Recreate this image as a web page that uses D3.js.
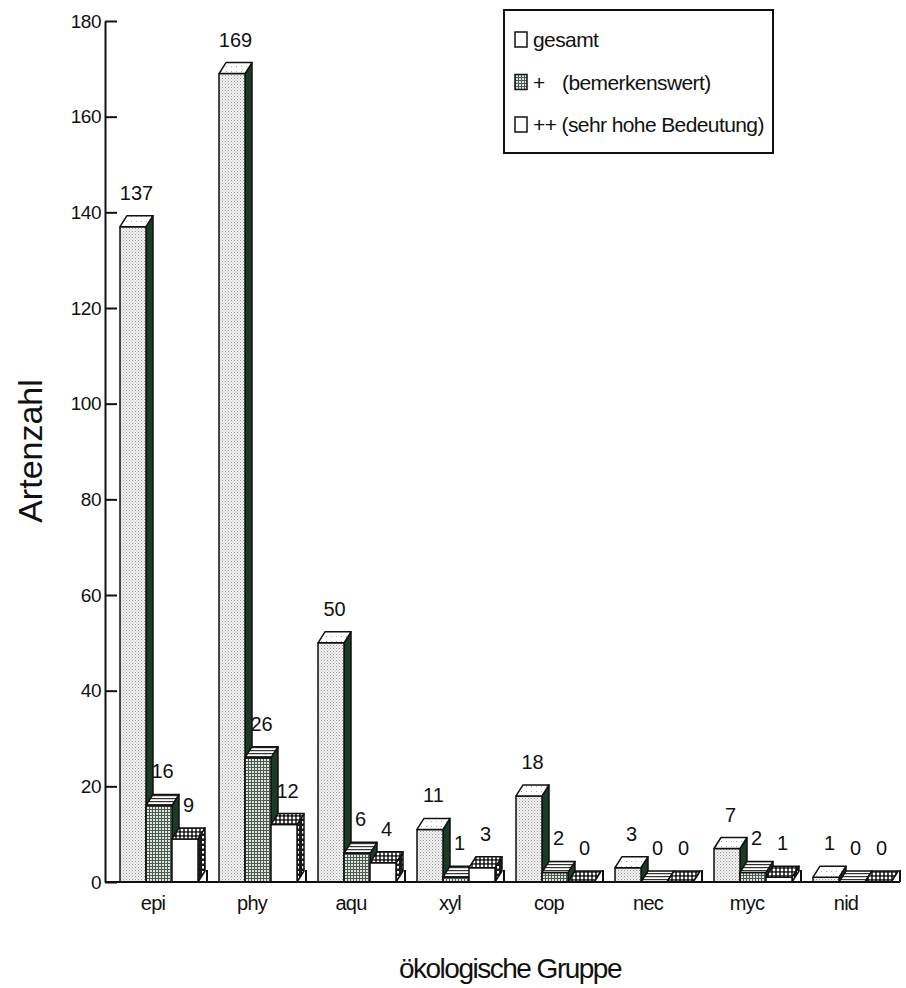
<!DOCTYPE html>
<html>
<head>
<meta charset="utf-8">
<script src="https://cdn.jsdelivr.net/npm/d3@7"></script>
<style>
  body { margin: 0; background: #fff; }
  text { font-family: "Liberation Sans", Arial, sans-serif; fill: #111; }
</style>
</head>
<body>
<svg id="chart"></svg>
<script>
// data
const groups = ["epi", "phy", "aqu", "xyl", "cop", "nec", "myc", "nid"];
const gesamt = [137, 169, 50, 11, 18, 3, 7, 1];
const bemerkenswert = [16, 26, 6, 1, 2, 0, 2, 0];
const sehrHoch = [9, 12, 4, 3, 0, 0, 1, 0];
const seriesNames = ["gesamt", "plus", "plusplus"];
const yTicks = [0, 20, 40, 60, 80, 100, 120, 140, 160, 180];

const width = 906, height = 988;
const dx = 7, dy = 11;

const svg = d3.select("#chart")
    .attr("width", width)
    .attr("height", height);

// textures
const defs = svg.append("defs");

function pattern(id, size, bg, draw) {
    const p = defs.append("pattern")
        .attr("id", id)
        .attr("patternUnits", "userSpaceOnUse")
        .attr("width", size)
        .attr("height", size);
    p.append("rect").attr("width", size).attr("height", size).attr("fill", bg);
    draw(p);
}

pattern("dotsFront", 3, "#f2f2f2", p => {
    p.append("rect").attr("x", 0).attr("y", 0).attr("width", 1).attr("height", 1).attr("fill", "#999");
    p.append("rect").attr("x", 1.5).attr("y", 1.5).attr("width", 1).attr("height", 1).attr("fill", "#b5b5b5");
});
pattern("dotsTop", 5, "#fff", p => {
    p.append("rect").attr("x", 1).attr("y", 1).attr("width", 1).attr("height", 1).attr("fill", "#aaa");
});
pattern("grid", 3, "#4a5a50", p => {
    p.append("rect").attr("x", 0).attr("y", 0).attr("width", 2).attr("height", 2).attr("fill", "#dfe4df");
});
pattern("lines", 3, "#fff", p => {
    p.append("rect").attr("x", 0).attr("y", 0).attr("width", 3).attr("height", 1.2).attr("fill", "#333");
});
pattern("circles", 4, "#1a1a1a", p => {
    p.append("circle").attr("cx", 2).attr("cy", 2).attr("r", 1.4).attr("fill", "#fff");
});
pattern("dashSide", 5, "#1a1a1a", p => {
    p.append("rect").attr("x", 2).attr("y", 1).attr("width", 2).attr("height", 2.5).attr("fill", "#fff");
});

const styles = {
    gesamt:   { front: "url(#dotsFront)", top: "url(#dotsTop)", side: "#1c3a28" },
    plus:     { front: "url(#grid)",      top: "url(#lines)",   side: "#1c3a28" },
    plusplus: { front: "#fff",            top: "url(#circles)", side: "url(#dashSide)" }
};

// scales
const y = d3.scaleLinear().domain([0, 180]).range([882, 21]);
const x = d3.scaleBand().domain(groups).range([108, 900]);
const xs = d3.scaleBand().domain(seriesNames).range([12, 90]);

// y axis
const yAxis = svg.append("g")
    .attr("transform", "translate(105,0)")
    .call(d3.axisLeft(y).tickValues(yTicks).tickSizeInner(-12).tickSizeOuter(0).tickPadding(4));
yAxis.select(".domain").attr("stroke", "#111").attr("stroke-width", 2);
yAxis.selectAll(".tick line").attr("stroke", "#111").attr("stroke-width", 2);
yAxis.selectAll(".tick text")
    .attr("font-size", 19)
    .attr("font-family", "Liberation Sans, Arial, sans-serif")
    .attr("letter-spacing", -0.5)
    .attr("fill", "#111");

// bars
const rows = groups.flatMap((g, i) => [
    { g, s: "gesamt", v: gesamt[i] },
    { g, s: "plus", v: bemerkenswert[i] },
    { g, s: "plusplus", v: sehrHoch[i] }
]);

const w = xs.bandwidth();
const bars = svg.append("g").selectAll("g.bar")
    .data(rows)
    .enter().append("g")
    .attr("class", "bar")
    .attr("stroke", "#111")
    .attr("stroke-width", 1.5)
    .attr("stroke-linejoin", "round");

bars.append("path")
    .attr("fill", d => styles[d.s].side)
    .attr("d", d => {
        const x1 = x(d.g) + xs(d.s) + w, yt = y(d.v), yb = y(0);
        return `M${x1},${yt}L${x1 + dx},${yt - dy}L${x1 + dx},${yb - dy}L${x1},${yb}Z`;
    });

bars.append("rect")
    .attr("x", d => x(d.g) + xs(d.s))
    .attr("y", d => y(d.v))
    .attr("width", w)
    .attr("height", d => y(0) - y(d.v))
    .attr("fill", d => styles[d.s].front);

bars.append("path")
    .attr("fill", d => styles[d.s].top)
    .attr("d", d => {
        const x0 = x(d.g) + xs(d.s), yt = y(d.v);
        return `M${x0},${yt}L${x0 + dx},${yt - dy}L${x0 + w + dx},${yt - dy}L${x0 + w},${yt}Z`;
    });

// value labels
svg.append("g").selectAll("text")
    .data(rows)
    .enter().append("text")
    .attr("x", d => x(d.g) + xs(d.s) + w / 2 + dx / 2)
    .attr("y", d => y(d.v) - 27)
    .attr("text-anchor", "middle")
    .attr("font-size", 20)
    .text(d => d.v);

// x axis: baseline, boundary ticks and category names
svg.append("line")
    .attr("x1", 105).attr("x2", 900)
    .attr("y1", y(0)).attr("y2", y(0))
    .attr("stroke", "#111").attr("stroke-width", 2);

svg.append("g").selectAll("line")
    .data(groups)
    .enter().append("line")
    .attr("x1", d => x(d) + x.bandwidth())
    .attr("x2", d => x(d) + x.bandwidth())
    .attr("y1", y(0)).attr("y2", y(0) - 12)
    .attr("stroke", "#111").attr("stroke-width", 2);

svg.append("g").selectAll("text")
    .data(groups)
    .enter().append("text")
    .attr("x", d => x(d) + 45)
    .attr("y", 910)
    .attr("text-anchor", "middle")
    .attr("font-size", 20)
    .attr("letter-spacing", -0.8)
    .text(d => d);

// axis titles
svg.append("text")
    .attr("transform", "translate(42,451) rotate(-90)")
    .attr("text-anchor", "middle")
    .attr("font-size", 34)
    .text("Artenzahl");

svg.append("text")
    .attr("x", 510)
    .attr("y", 978)
    .attr("text-anchor", "middle")
    .attr("font-size", 28)
    .attr("letter-spacing", -1.5)
    .text("ökologische Gruppe");

// legend
const legend = svg.append("g");
legend.append("rect")
    .attr("x", 504).attr("y", 10)
    .attr("width", 269).attr("height", 143)
    .attr("fill", "#fff")
    .attr("stroke", "#111").attr("stroke-width", 2);

const legendRows = [
    { s: "gesamt", fill: "#fff", parts: [["gesamt", 533]] },
    { s: "plus", fill: "url(#grid)", parts: [["+", 533], ["(bemerkenswert)", 562]] },
    { s: "plusplus", fill: "#fff", parts: [["++ (sehr hohe Bedeutung)", 533]] }
];

legendRows.forEach((r, i) => {
    const base = 47 + i * 42.5;
    legend.append("rect")
        .attr("x", 515).attr("y", base - 15)
        .attr("width", 12).attr("height", 15)
        .attr("fill", r.fill)
        .attr("stroke", "#111").attr("stroke-width", 1.5);
    r.parts.forEach(([t, tx]) => {
        legend.append("text")
            .attr("x", tx).attr("y", base)
            .attr("font-size", 21)
            .attr("letter-spacing", -0.6)
            .text(t);
    });
});
</script>
</body>
</html>
